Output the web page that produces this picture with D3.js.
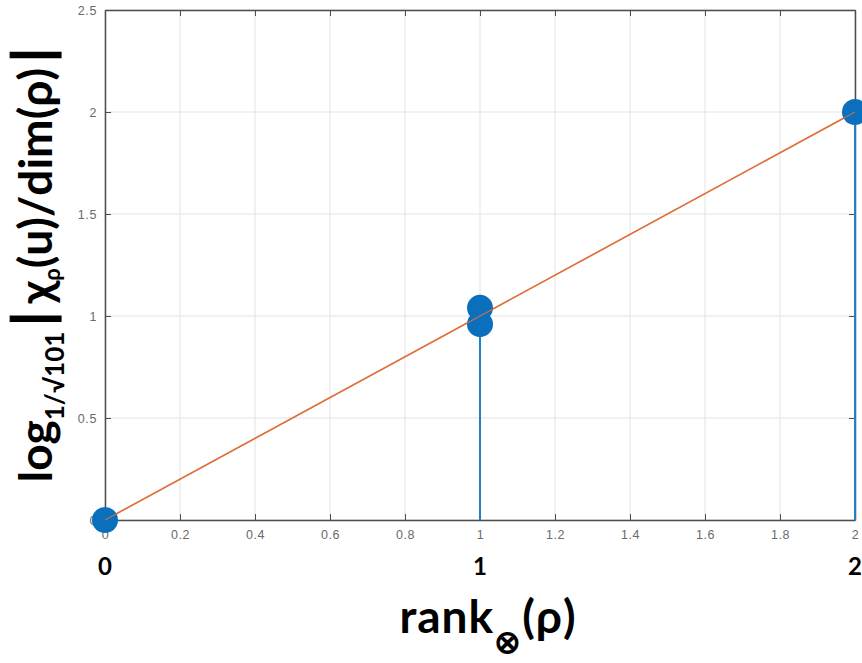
<!DOCTYPE html>
<html><head><meta charset="utf-8">
<script src="https://cdn.jsdelivr.net/npm/d3@7"></script>
<style>body{margin:0;background:#fff}svg{display:block}</style>
</head><body>
<script>
const xVals = [0, 1, 1, 2];
const yVals = [0, 1.04, 0.96, 2];
const fitX = [0, 2];
const fitY = [0, 2];
const xTicks = [0,0.2,0.4,0.6,0.8,1,1.2,1.4,1.6,1.8,2];
const yTicks = [0,0.5,1,1.5,2,2.5];
const bigXLabels = [0,1,2];

const W=862,H=663;
const svg=d3.select("body").append("svg").attr("width",W).attr("height",H);
const x=d3.scaleLinear().domain([0,2]).range([105,855]);
const y=d3.scaleLinear().domain([0,2.5]).range([520,10]);
const g=svg.append("g");
// grid
g.selectAll(".gx").data(xTicks).join("line").attr("x1",d=>x(d)).attr("x2",d=>x(d)).attr("y1",y(0)).attr("y2",y(2.5)).attr("stroke","#e3e3e3").attr("stroke-width",1);
g.selectAll(".gy").data(yTicks).join("line").attr("y1",d=>y(d)).attr("y2",d=>y(d)).attr("x1",x(0)).attr("x2",x(2)).attr("stroke","#e3e3e3").attr("stroke-width",1);
// axes
const xa=svg.append("g").attr("transform",`translate(0,${y(0)})`).call(d3.axisBottom(x).tickValues(xTicks).tickSizeInner(-6).tickSizeOuter(0).tickPadding(10).tickFormat(d3.format("")));
const xt=svg.append("g").attr("transform",`translate(0,${y(2.5)})`).call(d3.axisTop(x).tickValues(xTicks).tickSizeInner(-6).tickSizeOuter(0).tickFormat(""));
const ya=svg.append("g").attr("transform",`translate(${x(0)},0)`).call(d3.axisLeft(y).tickValues(yTicks).tickSizeInner(-6).tickSizeOuter(0).tickPadding(8).tickFormat(d3.format("")));
const yr=svg.append("g").attr("transform",`translate(${x(2)},0)`).call(d3.axisRight(y).tickValues(yTicks).tickSizeInner(-6).tickSizeOuter(0).tickFormat(""));
[xa,xt,ya,yr].forEach(a=>{a.select(".domain").attr("stroke","#4d4d4d").attr("stroke-width",1.5);a.selectAll(".tick line").attr("stroke","#4d4d4d");a.selectAll("text").attr("fill","#6a6a6a").attr("font-family","Liberation Sans, sans-serif").attr("font-size",12.5).attr("letter-spacing",0.6);});
// fit line
svg.append("path").datum(fitX.map((d,i)=>[d,fitY[i]])).attr("d",d3.line().x(d=>x(d[0])).y(d=>y(d[1]))).attr("stroke","#E0703C").attr("stroke-width",1.5).attr("fill","none");
// stems
const pts=xVals.map((d,i)=>[d,yVals[i]]);
svg.selectAll(".stem").data(pts).join("line").attr("x1",d=>x(d[0])).attr("x2",d=>x(d[0])).attr("y1",d=>y(0)).attr("y2",d=>y(d[1])).attr("stroke","#1f80c8").attr("stroke-width",2);
svg.selectAll(".mk").data(pts).join("circle").attr("cx",d=>x(d[0])).attr("cy",d=>y(d[1])).attr("r",13).attr("fill","#0A6FBC");
// redraw fit line over markers
svg.append("path").datum(fitX.map((d,i)=>[d,fitY[i]])).attr("d",d3.line().x(d=>x(d[0])).y(d=>y(d[1]))).attr("stroke","#E0703C").attr("stroke-width",1.3).attr("fill","none").attr("opacity",0.8);
// big x labels
svg.selectAll(".bx").data(bigXLabels).join("text").attr("x",d=>x(d)).attr("y",575).attr("text-anchor","middle").attr("font-family","Lato, sans-serif").attr("font-weight","bold").attr("font-size",24).attr("fill","#000").text(d=>d);
// x label
const xl=svg.append("text").attr("x",488).attr("y",633).attr("text-anchor","middle").attr("font-family","Lato, sans-serif").attr("font-weight","bold").attr("font-size",46).attr("letter-spacing",1).attr("fill","#000");
xl.append("tspan").text("rank");
xl.append("tspan").attr("font-size",32).attr("dy",20).text("⊗");
xl.append("tspan").attr("dy",-20).text("(ρ)");
// y label
const yl=svg.append("text").attr("transform","translate(52,265) rotate(-90)").attr("text-anchor","middle").attr("font-family","Lato, sans-serif").attr("font-weight","bold").attr("font-size",46).attr("fill","#000");
yl.append("tspan").text("log");
yl.append("tspan").attr("font-size",26).attr("dy",12).text("1/√101");
yl.append("tspan").attr("dy",-12).attr("dx",6).attr("font-size",54).attr("stroke","#000").attr("stroke-width",1.2).text("|");
yl.append("tspan").attr("dx",8).text("χ");
yl.append("tspan").attr("font-size",22).attr("dy",8).text("ρ");
yl.append("tspan").attr("dy",-8).text("(u)/dim(ρ)");
yl.append("tspan").attr("dx",6).attr("font-size",54).attr("stroke","#000").attr("stroke-width",1.2).text("|");
</script>
</body></html>
